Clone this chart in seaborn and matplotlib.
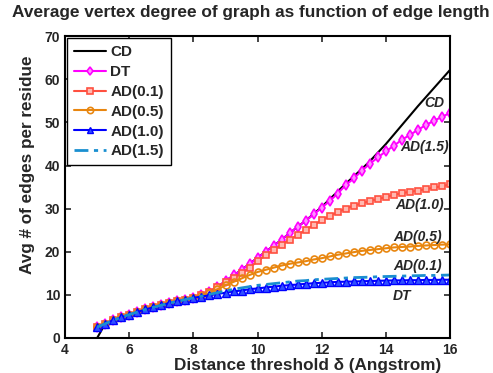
import pandas as pd
import matplotlib
matplotlib.use("Agg")
import matplotlib.pyplot as plt
import seaborn as sns

# Distance threshold values (Angstrom), one point every 0.25
delta = [5.0, 5.25, 5.5, 5.75, 6.0, 6.25, 6.5, 6.75, 7.0, 7.25, 7.5, 7.75, 8.0,
         8.25, 8.5, 8.75, 9.0, 9.25, 9.5, 9.75, 10.0, 10.25, 10.5, 10.75, 11.0,
         11.25, 11.5, 11.75, 12.0, 12.25, 12.5, 12.75, 13.0, 13.25, 13.5, 13.75,
         14.0, 14.25, 14.5, 14.75, 15.0, 15.25, 15.5, 15.75, 16.0]

# shared start of all curves (5.0 .. 8.0)
base = [2.5, 3.3, 4.1, 4.8, 5.4, 6.0, 6.6, 7.1, 7.6, 8.1, 8.5, 8.9, 9.3]

cd = [0.0] + base[1:] + [
    9.9, 10.7, 11.8, 13.2, 14.5, 15.8, 17.2, 18.6, 20.0, 21.4, 22.8, 24.3,
    25.8, 27.2, 28.8, 30.4, 32.2, 34.0, 35.8, 37.5, 39.2, 41.0, 43.0, 45.0,
    47.2, 49.4, 51.6, 53.8, 55.9, 58.0, 60.1, 62.2]
dt = base + [
    9.9, 10.7, 11.8, 13.2, 14.5, 15.8, 17.2, 18.6, 20.0, 21.4, 22.8, 24.3,
    25.8, 27.2, 28.7, 30.2, 31.8, 33.5, 35.5, 37.0, 38.8, 40.4, 41.9, 43.3,
    44.6, 46.0, 47.1, 48.3, 49.4, 50.4, 51.3, 52.2]
ad01 = base + [
    9.9, 10.7, 11.8, 13.0, 14.0, 15.0, 16.3, 17.8, 19.2, 20.4, 21.6, 22.8,
    23.9, 25.1, 26.2, 27.3, 28.3, 29.2, 30.0, 30.7, 31.2, 31.8, 32.2, 32.7,
    33.2, 33.6, 33.9, 34.2, 34.5, 34.9, 35.2, 35.6]
ad05 = base + [
    9.7, 10.4, 11.3, 12.2, 13.0, 13.8, 14.6, 15.3, 15.8, 16.3, 16.8, 17.2,
    17.5, 17.8, 18.2, 18.5, 18.9, 19.3, 19.6, 19.9, 20.2, 20.4, 20.6, 20.8,
    21.0, 21.1, 21.2, 21.35, 21.45, 21.55, 21.65, 21.7]
ad10 = base + [
    9.6, 9.9, 10.2, 10.5, 10.8, 11.0, 11.3, 11.5, 11.7, 11.9, 12.1, 12.25,
    12.4, 12.55, 12.7, 12.8, 12.9, 13.0, 13.05, 13.1, 13.15, 13.2, 13.25, 13.3,
    13.35, 13.35, 13.4, 13.4, 13.45, 13.45, 13.5, 13.5]
ad15 = base + [
    9.7, 10.1, 10.5, 10.9, 11.3, 11.6, 11.9, 12.2, 12.4, 12.6, 12.8, 13.0,
    13.2, 13.3, 13.5, 13.6, 13.7, 13.8, 13.9, 14.0, 14.05, 14.1, 14.2, 14.25,
    14.3, 14.35, 14.4, 14.45, 14.5, 14.5, 14.55, 14.6]

series_names = ["CD", "DT", "AD(0.1)", "AD(0.5)", "AD(1.0)", "AD(1.5)"]
series_values = [cd, dt, ad01, ad05, ad10, ad15]

# in-plot annotations (text, x, y)
note_text = ["CD", "AD(1.5)", "AD(1.0)", "AD(0.5)", "AD(0.1)", "DT"]
note_x = [15.19, 14.44, 14.28, 14.22, 14.22, 14.22]
note_y = [54.5, 44.3, 30.9, 23.5, 16.7, 9.7]

sns.set_style("ticks")
plt.rcParams["font.family"] = ["Liberation Sans", "DejaVu Sans"]
plt.rcParams["font.weight"] = "bold"

df = pd.DataFrame({"delta": delta})
for name, vals in zip(series_names, series_values):
    df[name] = vals

styles = {
    "CD": dict(color="black"),
    "DT": dict(color="#FF00FF", marker="d", markersize=5,
               markerfacecolor="#FF90FF", markeredgecolor="#FF00FF",
               markeredgewidth=1.2),
    "AD(0.1)": dict(color="#FF5040", marker="s", markersize=4.5,
                    markerfacecolor="#FFB8B0", markeredgecolor="#FF5040",
                    markeredgewidth=1.2),
    "AD(0.5)": dict(color="#E8860F", marker="o", markersize=5,
                    markerfacecolor="none", markeredgecolor="#E8860F",
                    markeredgewidth=1.2),
    "AD(1.0)": dict(color="#0000FF", marker="^", markersize=5.5,
                    markerfacecolor="#3050FF", markeredgecolor="#0000FF",
                    markeredgewidth=1.0),
    "AD(1.5)": dict(color="#1A8FD0"),
}

fig = plt.figure(figsize=(4.93, 3.73), dpi=100)
ax = fig.add_axes([0.132, 0.094, 0.781, 0.809])

for name in series_names:
    sns.lineplot(data=df, x="delta", y=name, ax=ax, label=name,
                 linewidth=2 if name == "AD(1.5)" else 1.5, **styles[name])
    line = ax.lines[-1]
    if name == "AD(1.5)":
        line.set_dashes((5, 2, 1.5, 2))
    else:
        line.set_linestyle("-")

for t, x, y in zip(note_text, note_x, note_y):
    ax.text(x, y, t, fontsize=10, fontweight="bold", fontstyle="italic",
            ha="left", va="center")

ax.set_xlim(4, 16)
ax.set_ylim(0, 70)
ax.set_xticks(range(4, 17, 2))
ax.set_yticks(range(0, 71, 10))
ax.tick_params(direction="in", top=True, right=True, width=1.2, length=4,
               labelsize=10)
for lab in ax.get_xticklabels() + ax.get_yticklabels():
    lab.set_fontweight("bold")
for sp in ax.spines.values():
    sp.set_visible(True)
    sp.set_linewidth(1.5)
    sp.set_color("black")

fig.text(251 / 493, 1 - 12 / 373,
         "Average vertex degree of graph as function of edge length",
         fontsize=12.45, fontweight="bold", ha="center", va="center")
ax.set_xlabel("Distance threshold \u03b4 (Angstrom)", fontsize=12.3,
              fontweight="bold")
ax.xaxis.set_label_coords(0.629, -0.065)
ax.set_ylabel("Avg # of edges per residue", fontsize=12.3, fontweight="bold")
ax.yaxis.set_label_coords(-0.078, 0.573)

leg = ax.legend(loc="upper left", fontsize=11, frameon=True, fancybox=False,
                borderaxespad=0.15, handlelength=2.1, handletextpad=0.25,
                labelspacing=0.38, borderpad=0.45, markerscale=0.9)
leg.get_frame().set_edgecolor("black")
leg.get_frame().set_linewidth(1.0)
leg.get_frame().set_alpha(1)
for txt in leg.get_texts():
    txt.set_fontweight("bold")

fig.savefig("out.png", dpi=100)
